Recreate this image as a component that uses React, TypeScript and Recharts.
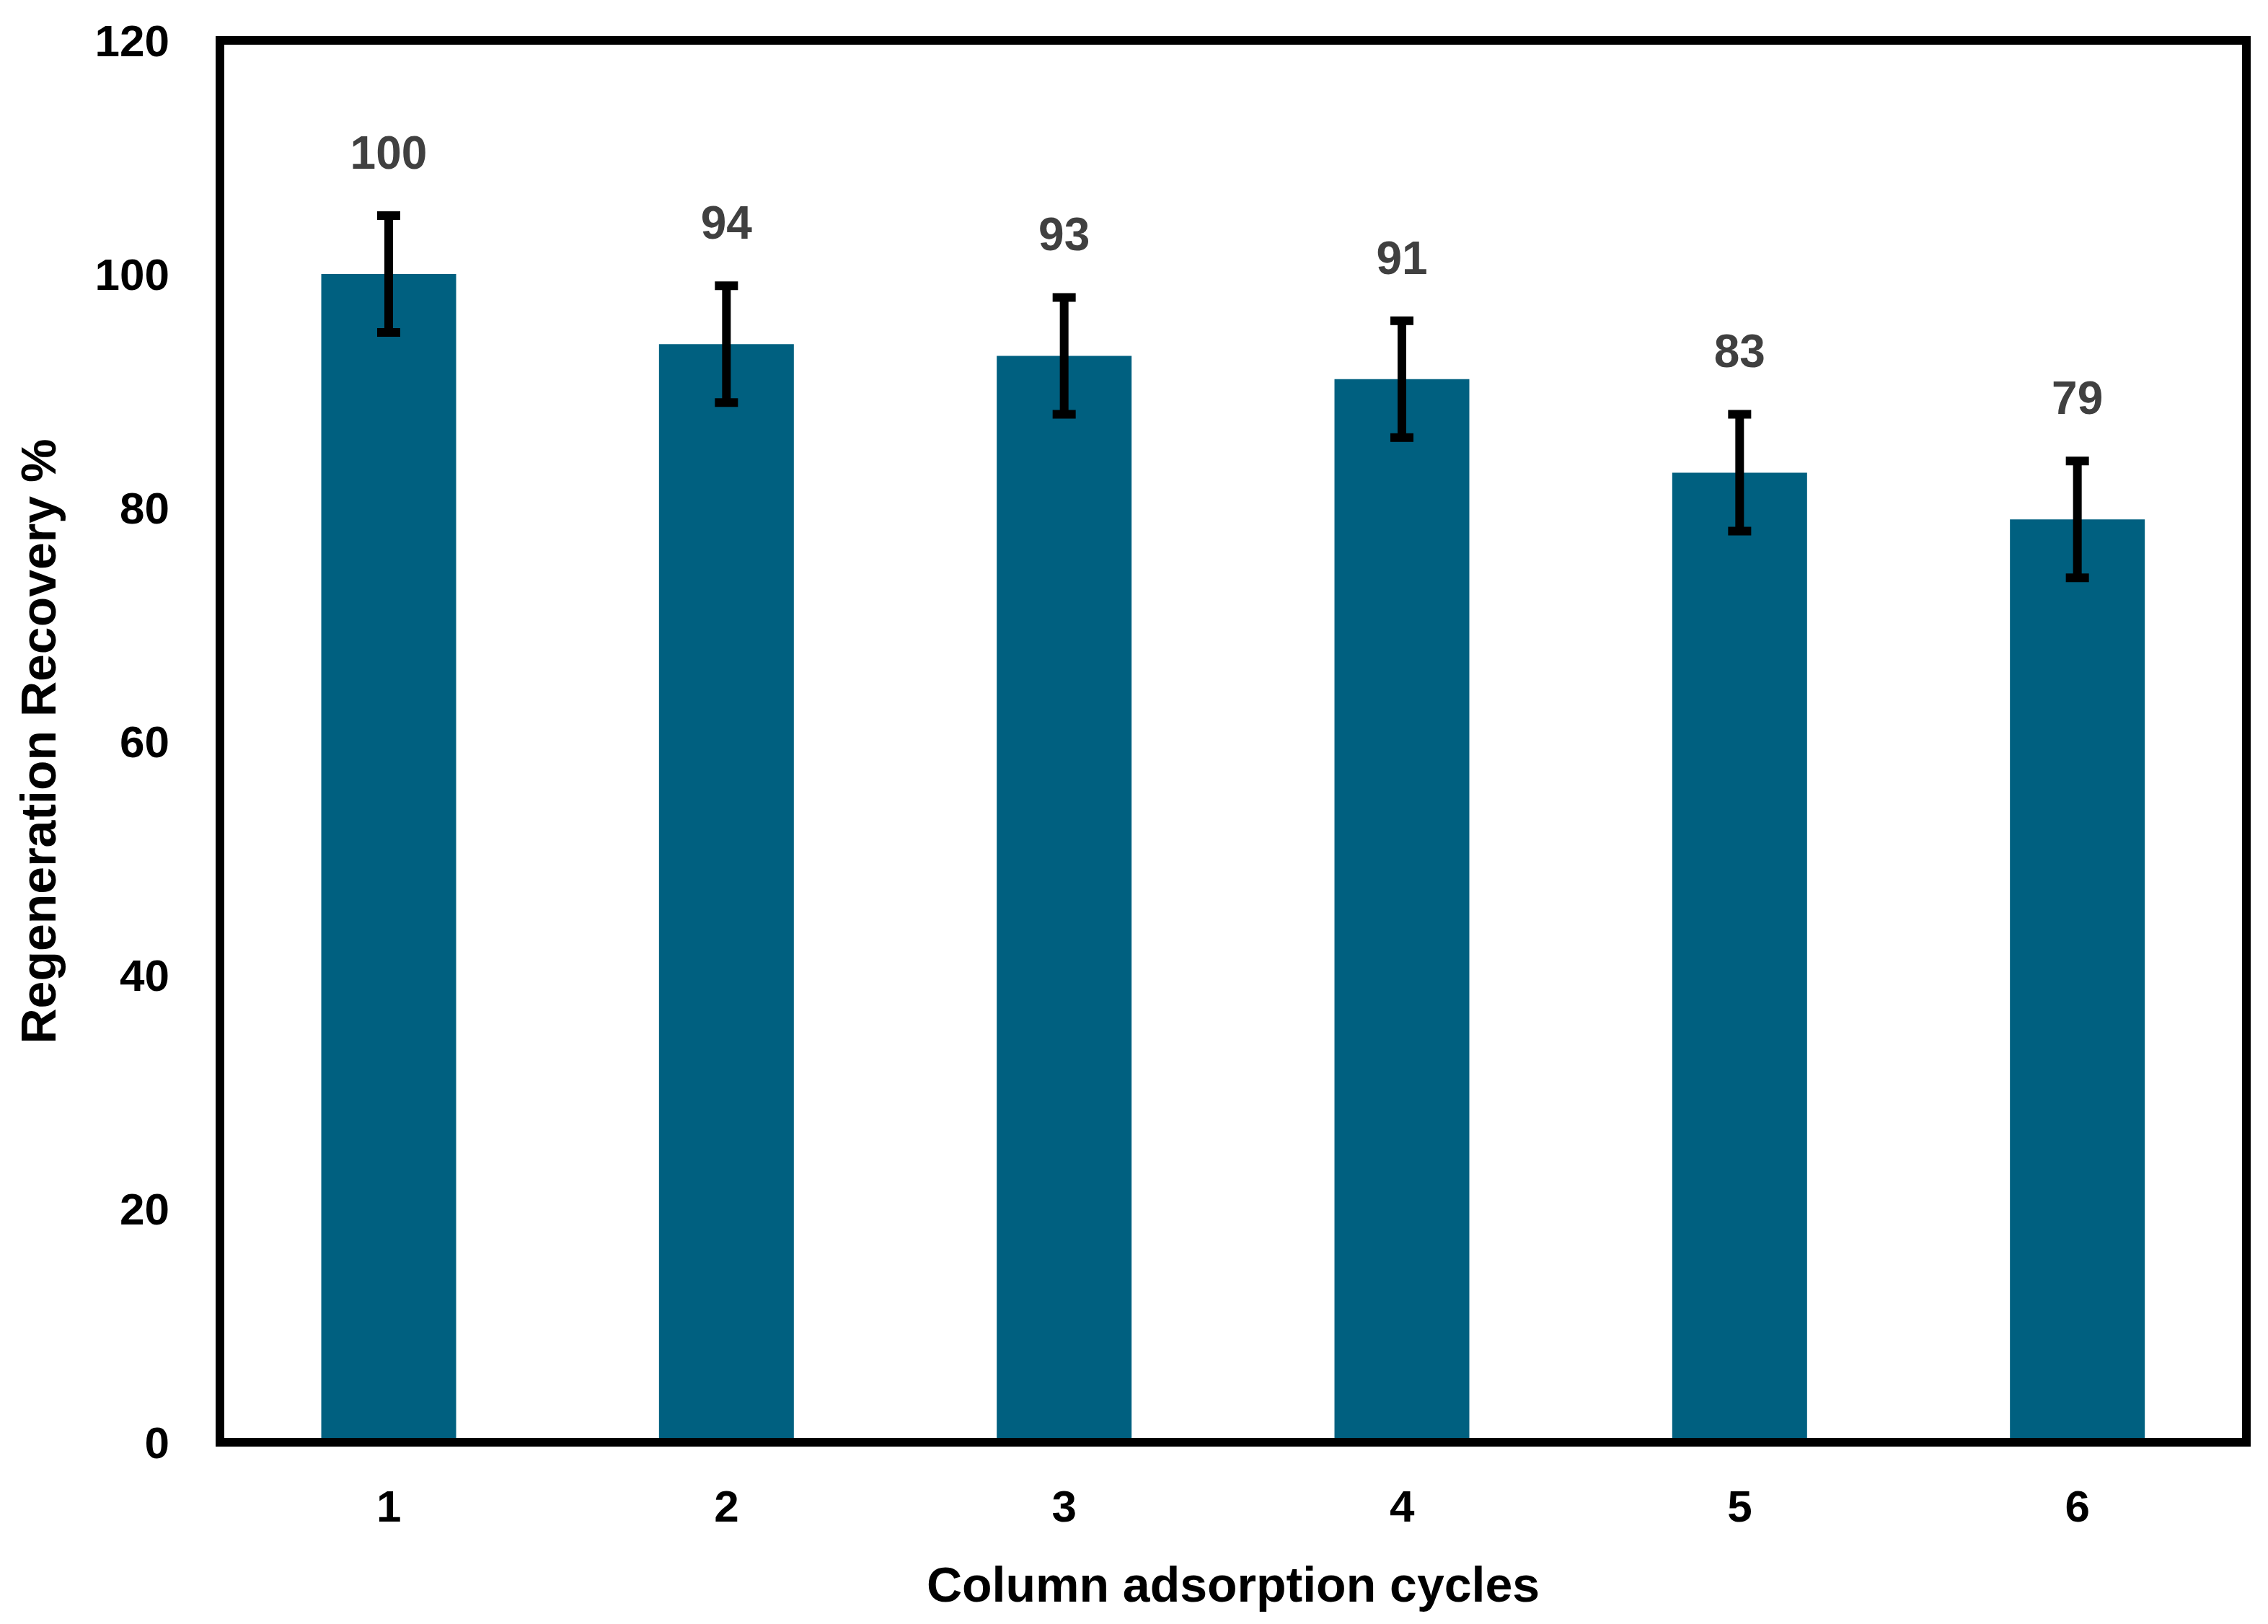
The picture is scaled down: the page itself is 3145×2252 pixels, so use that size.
import { BarChart, Bar, XAxis, YAxis, ErrorBar, LabelList, ReferenceArea } from 'recharts';

// cycle numbers on the x axis
const cycles = ['1', '2', '3', '4', '5', '6'];
// regeneration recovery (%) per cycle
const recovery = [100, 94, 93, 91, 83, 79];
// error bar half-range (%)
const recoveryError = [5, 5, 5, 5, 5, 5];
const yTicks = [0, 20, 40, 60, 80, 100, 120];

const data = cycles.map((cycle, i) => ({
  cycle,
  recovery: recovery[i],
  error: recoveryError[i],
}));

const FONT = '"Liberation Sans", Arial, sans-serif';
const frameLine = { stroke: '#000', strokeWidth: 12, strokeLinecap: 'square' as const };
const tickStyle = { fontSize: 62, fontWeight: 700, fill: '#000', fontFamily: FONT };

export default function App() {
  return (
    <div style={{ width: 3145, height: 2252, background: '#fff' }}>
      <style>{'body { margin: 0; }'}</style>
      <BarChart
        width={3145}
        height={2252}
        data={data}
        margin={{ top: 56, right: 30, bottom: 0, left: 0 }}
        barCategoryGap="30%"
      >
        <XAxis
          dataKey="cycle"
          height={252}
          interval={0}
          axisLine={frameLine}
          tickLine={false}
          tickSize={0}
          tickMargin={66}
          tick={tickStyle}
          label={{
            value: 'Column adsorption cycles',
            position: 'insideBottom',
            offset: 31,
            fontSize: 68,
            fontWeight: 700,
            fill: '#000',
            fontFamily: FONT,
          }}
        />
        <YAxis
          domain={[0, 120]}
          ticks={yTicks}
          width={305}
          axisLine={frameLine}
          tickLine={false}
          tickSize={0}
          tickMargin={70}
          tick={tickStyle}
          label={{
            value: 'Regeneration Recovery %',
            angle: -90,
            position: 'insideLeft',
            offset: 53,
            fontSize: 68,
            fontWeight: 700,
            fill: '#000',
            fontFamily: FONT,
            style: { textAnchor: 'middle' },
          }}
        />
        {/* plot frame */}
        <ReferenceArea y1={0} y2={120} fill="none" stroke="#000" strokeWidth={12} ifOverflow="visible" />
        <Bar dataKey="recovery" fill="#006080" isAnimationActive={false}>
          <ErrorBar dataKey="error" width={16} strokeWidth={12} stroke="#000" />
          <LabelList
            dataKey="recovery"
            position="top"
            offset={146}
            fill="#404040"
            fontSize={64}
            fontWeight={700}
            fontFamily={FONT}
          />
        </Bar>
      </BarChart>
    </div>
  );
}
